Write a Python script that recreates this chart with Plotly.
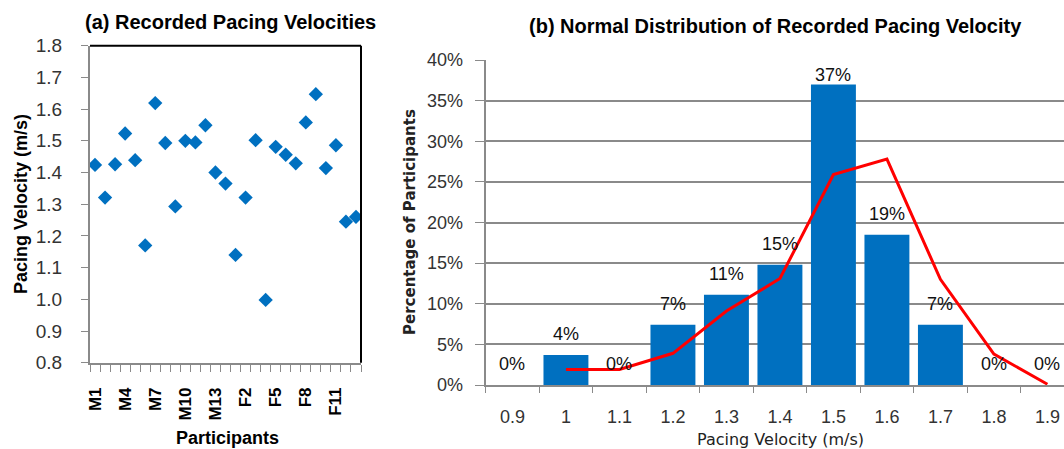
import plotly.graph_objects as go

# ---------------- data ----------------
participants = ["M1", "M2", "M3", "M4", "M5", "M6", "M7", "M8", "M9", "M10",
                "M11", "M12", "M13", "M14",
                "F1", "F2", "F3", "F4", "F5", "F6", "F7", "F8", "F9", "F10",
                "F11", "F12", "F13"]
velocity = [1.424, 1.321, 1.426, 1.523, 1.439, 1.170, 1.619, 1.493, 1.293,
            1.500, 1.495, 1.549, 1.400, 1.365, 1.140, 1.321, 1.502, 0.998,
            1.481, 1.456, 1.429, 1.558, 1.647, 1.414, 1.486, 1.245, 1.260]

bins = ["0.9", "1", "1.1", "1.2", "1.3", "1.4", "1.5", "1.6", "1.7", "1.8", "1.9"]
pct = [0, 3.7, 0, 7.4, 11.1, 14.8, 37.0, 18.5, 7.4, 0, 0]
fit_bins = ["1", "1.1", "1.2", "1.3", "1.4", "1.5", "1.6", "1.7", "1.8", "1.9"]
fit_pct = [1.9, 1.9, 3.9, 9.1, 13.1, 25.9, 27.8, 13.0, 3.8, 0.1]

W, H = 1064, 449
BLUE = "#0070C0"
GRAY = "#8a8a8a"


def px(x):
    return x / W


def py(y):
    return 1 - y / H


fig = go.Figure()

# ---- left: scatter ----
idx = list(range(len(participants)))
fig.add_trace(go.Scatter(
    x=idx, y=velocity, mode="markers", xaxis="x", yaxis="y",
    marker=dict(symbol="diamond", size=11, color=BLUE),
    text=participants, showlegend=False))

# ---- right: histogram bars + fit line ----
fig.add_trace(go.Bar(
    x=bins, y=pct, xaxis="x2", yaxis="y2", marker=dict(color=BLUE, line=dict(width=0)),
    showlegend=False))
fig.add_trace(go.Scatter(
    x=fit_bins, y=fit_pct, xaxis="x2", yaxis="y2", mode="lines",
    line=dict(color="#FF0000", width=3), showlegend=False))

annotations = []
for i, v in enumerate(pct):
    annotations.append(dict(
        x=i, y=v, xref="x2", yref="y2", text=f"{int(v + 0.5)}%",
        showarrow=False, yshift=21 if v < 35 else 9,
        font=dict(family="Liberation Sans", size=18, color="#111"),
        xanchor="center", yanchor="middle"))


def label(x, y, text, font, angle=0):
    return dict(x=px(x), y=py(y), xref="paper", yref="paper", showarrow=False,
                text=text, font=font, textangle=angle,
                xanchor="center", yanchor="middle")


bold_font = dict(family="Liberation Sans", size=20, color="#000")
annotations += [
    label(230, 22, "<b>(a) Recorded Pacing Velocities</b>", bold_font),
    label(775, 26, "<b>(b) Normal Distribution of Recorded Pacing Velocity</b>", bold_font),
    label(21, 204, "<b>Pacing Velocity (m/s)</b>",
          dict(family="Liberation Sans", size=18, color="#000"), -90),
    label(227, 438, "<b>Participants</b>",
          dict(family="Liberation Sans", size=18, color="#000")),
    label(410, 222, "<b>Percentage of Participants</b>",
          dict(family="DejaVu Sans", size=15, color="#222"), -90),
    label(780, 439, "Pacing Velocity (m/s)",
          dict(family="DejaVu Sans", size=16, color="#222")),
]

shapes = [
    dict(type="line", xref="x domain", yref="y domain", x0=0, x1=1, y0=1, y1=1,
         line=dict(color="#000", width=2)),
    dict(type="line", xref="x domain", yref="y domain", x0=1, x1=1, y0=0, y1=1,
         line=dict(color="#000", width=2)),
]

tick_font = dict(family="Liberation Sans", size=18, color="#333")

fig.update_layout(
    width=W, height=H, autosize=False,
    margin=dict(l=0, r=0, t=0, b=0, autoexpand=False),
    paper_bgcolor="white", plot_bgcolor="white",
    bargap=0.16,
    annotations=annotations, shapes=shapes,
    xaxis=dict(
        domain=[px(90), px(361)], range=[-0.5, len(participants) - 0.5],
        tickmode="array", tickvals=idx[::3], ticktext=participants[::3],
        tickangle=-90, ticks="", ticklabelstandoff=16, automargin=False,
        tickfont=dict(family="Liberation Sans", size=17, color="#000", weight="bold"),
        showgrid=False, zeroline=False, showline=True, linecolor=GRAY, linewidth=2,
        minor=dict(tickmode="linear", tick0=-0.5, dtick=1, ticks="outside",
                   ticklen=7, tickcolor=GRAY, tickwidth=1, showgrid=False),
        anchor="y", fixedrange=True),
    yaxis=dict(
        domain=[py(362.7), py(45.7)], range=[0.8, 1.8], dtick=0.1, tick0=0.8,
        tickformat=".1f", ticks="outside", ticklen=7, tickcolor=GRAY, tickwidth=1,
        ticklabelstandoff=15, automargin=False,
        tickfont=dict(family="Liberation Sans", size=19, color="#333"),
        showgrid=False, zeroline=False, showline=True, linecolor=GRAY, linewidth=2,
        anchor="x"),
    xaxis2=dict(
        domain=[px(485.7), 1.0], range=[-0.5, 10.31], type="category",
        tickson="boundaries", ticks="outside", ticklen=6, tickcolor=GRAY, tickwidth=1,
        ticklabelstandoff=14, tickfont=tick_font, automargin=False,
        showgrid=False, zeroline=False, showline=True, linecolor=GRAY, linewidth=2,
        anchor="y2"),
    yaxis2=dict(
        domain=[py(385), py(60)], range=[0, 40], dtick=5, tick0=0, ticksuffix="%",
        ticks="outside", ticklen=9, tickcolor=GRAY, tickwidth=1,
        ticklabelstandoff=8, tickfont=tick_font, automargin=False,
        showgrid=True, gridcolor=GRAY, gridwidth=2, zeroline=False,
        showline=True, linecolor=GRAY, linewidth=2, anchor="x2"),
)

fig.write_html("out.html", config={"displayModeBar": False},
               post_script="document.body.style.margin='0px';"
                           "document.body.style.overflow='hidden';")
